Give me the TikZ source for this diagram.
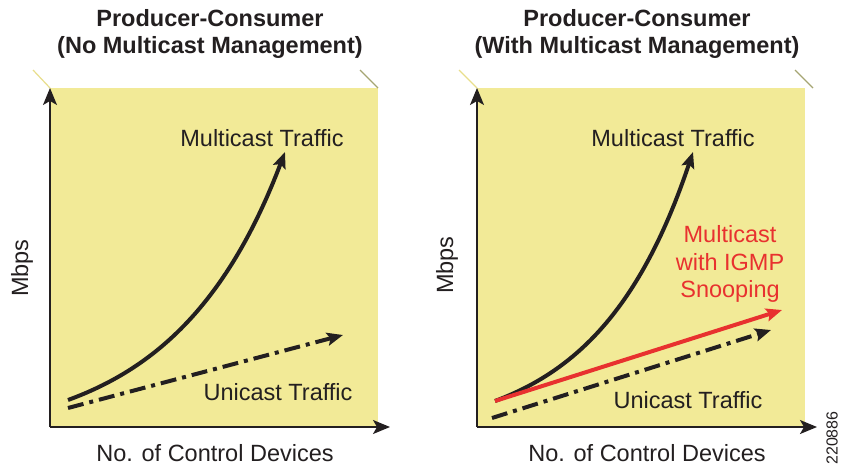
\documentclass[tikz,border=0pt]{standalone}
\usepackage{fontspec}
\setmainfont{Liberation Sans}
\usetikzlibrary{arrows.meta}
\definecolor{panel}{RGB}{242,234,151}
\definecolor{ink}{RGB}{35,31,32}
\definecolor{redline}{RGB}{232,49,47}
\definecolor{tickol}{RGB}{165,165,115}
\definecolor{ticky}{RGB}{232,222,140}
\tikzset{
  lbl/.style={inner sep=0pt, font=\fontsize{23.5}{27.5}\selectfont, text=ink},
  ttl/.style={inner sep=0pt, font=\fontsize{23.5}{27}\selectfont\bfseries, text=ink, align=center},
  redlbl/.style={inner sep=0pt, font=\fontsize{23.5}{27.5}\selectfont, text=redline, align=center},
  axisline/.style={draw=ink, line width=1.5pt, -{Stealth[length=17pt,width=14pt,inset=4pt]}},
  trend/.style={draw=ink, line width=4pt, -{Stealth[length=16pt,width=13pt,inset=3pt]}},
  dashdot/.style={trend, dash pattern=on 16pt off 6pt on 4pt off 6pt},
  redtrend/.style={trend, draw=redline},
  panelbox/.style={fill=panel, draw=none},
  ticka/.style={draw=ticky, line width=1.2pt},
  tickb/.style={draw=tickol, line width=1.2pt}
}
\begin{document}
\begin{tikzpicture}[x=1pt,y=-1pt]
\useasboundingbox (0,0) rectangle (843,472);
% ---------- left panel ----------
\fill[panelbox] (50,88) rectangle (378,427);
\draw[ticka] (33,70) -- (50,88);
\draw[tickb] (360,70) -- (378,88);
\coordinate (lo) at (50,427);
\coordinate (ly) at (50,88);
\coordinate (lx) at (390,427);
\draw[axisline] (lo) -- (ly);
\draw[axisline] (lo) -- (lx);
\coordinate (lc0) at (68,400);
\coordinate (lc1) at (285,152);
\draw[trend] (lc0) .. controls (150,370) and (225,310) .. (lc1);
\coordinate (ld0) at (68,408);
\coordinate (ld1) at (343,335);
\draw[dashdot] (ld0) -- (ld1);
\node[ttl] (ltitle) at (210,34) {Producer-Consumer\\(No Multicast Management)};
\node[lbl, anchor=base] (lmt) at (262,146) {Multicast Traffic};
\node[lbl, anchor=base] (lut) at (278,400.5) {Unicast Traffic};
\node[lbl, anchor=base] (lxl) at (215,461.5) {No. of Control Devices};
\node[lbl, rotate=90] (lyl) at (22,268) {Mbps};
% ---------- right panel ----------
\fill[panelbox] (477,88) rectangle (805,427);
\draw[ticka] (459,70) -- (477,88);
\draw[tickb] (795,70) -- (813,88);
\coordinate (ro) at (477,427);
\coordinate (ry) at (477,88);
\coordinate (rx) at (817,427);
\draw[axisline] (ro) -- (ry);
\draw[axisline] (ro) -- (rx);
\coordinate (rc0) at (495,401);
\coordinate (rc1) at (693,152);
\draw[trend] (rc0) .. controls (575,371) and (640,310) .. (rc1);
\coordinate (rr1) at (782,310);
\draw[redtrend] (rc0) -- (rr1);
\coordinate (rd0) at (492,418);
\coordinate (rd1) at (771,330);
\draw[dashdot] (rd0) -- (rd1);
\node[ttl] (rtitle) at (637,34) {Producer-Consumer\\(With Multicast Management)};
\node[lbl, anchor=base] (rmt) at (673,146) {Multicast Traffic};
\node[redlbl] (rig) at (730,264) {Multicast\\with IGMP\\Snooping};
\node[lbl, anchor=base] (rut) at (688,408.5) {Unicast Traffic};
\node[lbl, anchor=base] (rxl) at (647,461.5) {No. of Control Devices};
\node[lbl, rotate=90] (ryl) at (447,265) {Mbps};
\node[inner sep=0pt, rotate=90, text=ink, font=\fontsize{16}{18}\selectfont] (fig) at (832,438) {220886};
\end{tikzpicture}
\end{document}
